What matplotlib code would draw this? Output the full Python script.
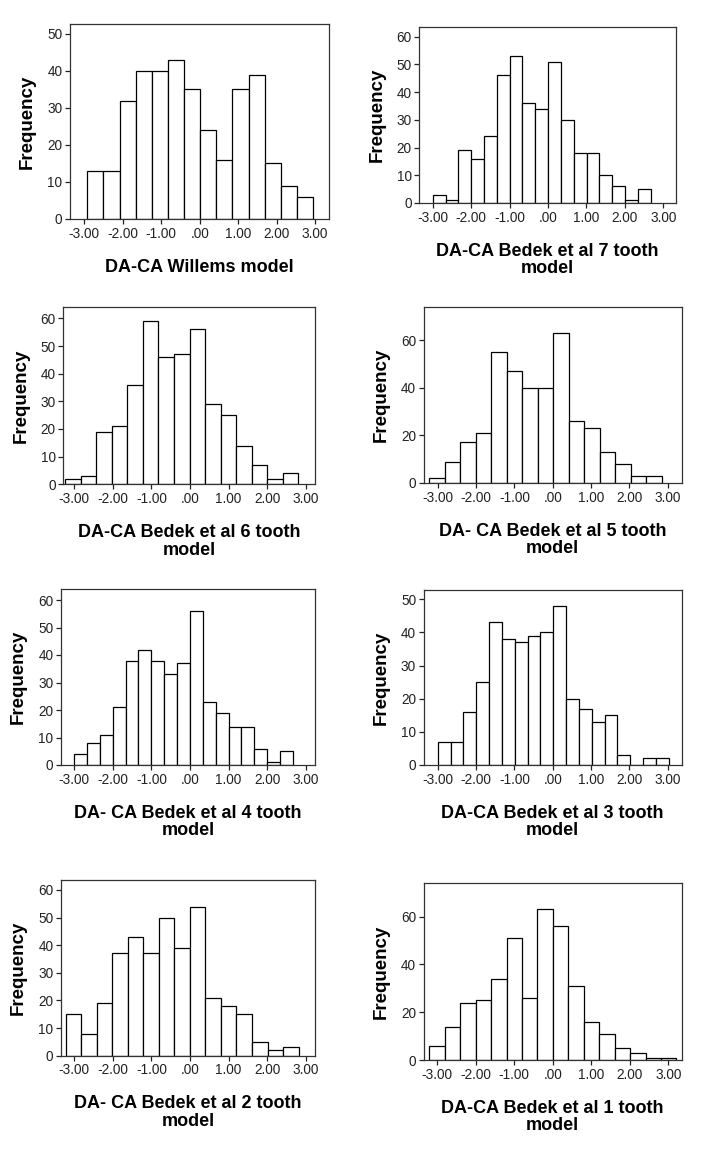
import numpy as np
import matplotlib
matplotlib.use("Agg")
import matplotlib.pyplot as plt

plt.rcParams['font.family'] = ['Liberation Sans', 'DejaVu Sans']

# ---- data ----
titles = [
    "DA-CA Willems model",
    "DA-CA Bedek et al 7 tooth\nmodel",
    "DA-CA Bedek et al 6 tooth\nmodel",
    "DA- CA Bedek et al 5 tooth\nmodel",
    "DA- CA Bedek et al 4 tooth\nmodel",
    "DA-CA Bedek et al 3 tooth\nmodel",
    "DA- CA Bedek et al 2 tooth\nmodel",
    "DA-CA Bedek et al 1 tooth\nmodel",
]

counts_willems = [13, 13, 32, 40, 40, 43, 35, 24, 16, 35, 39, 15, 9, 6]
counts_7tooth = [3, 1, 19, 16, 24, 46, 53, 36, 34, 51, 30, 18, 18, 10, 6, 1, 5]
counts_6tooth = [2, 3, 19, 21, 36, 59, 46, 47, 56, 29, 25, 14, 7, 2, 4]
counts_5tooth = [2, 9, 17, 21, 55, 47, 40, 40, 63, 26, 23, 13, 8, 3, 3]
counts_4tooth = [4, 8, 11, 21, 38, 42, 38, 33, 37, 56, 23, 19, 14, 14, 6, 1, 5]
counts_3tooth = [7, 7, 16, 25, 43, 38, 37, 39, 40, 48, 20, 17, 13, 15, 3, 0, 2, 2]
counts_2tooth = [15, 8, 19, 37, 43, 37, 50, 39, 54, 21, 18, 15, 5, 2, 3]
counts_1tooth = [6, 14, 24, 25, 34, 51, 26, 63, 56, 31, 16, 11, 5, 3, 1, 1]

# first bin edge and bin width of each histogram (x values)
bin_starts = [-2.92, -3.00, -3.233, -3.217, -3.00, -3.00, -3.216, -3.199]
bin_widths = [0.419, 0.3335, 0.403, 0.404, 0.3335, 0.335, 0.402, 0.4004]

x_ticks = [-3, -2, -1, 0, 1, 2, 3]
x_tick_labels = ["-3.00", "-2.00", "-1.00", ".00", "1.00", "2.00", "3.00"]

y_ticks = [
    [0, 10, 20, 30, 40, 50],
    [0, 10, 20, 30, 40, 50, 60],
    [0, 10, 20, 30, 40, 50, 60],
    [0, 20, 40, 60],
    [0, 10, 20, 30, 40, 50, 60],
    [0, 10, 20, 30, 40, 50],
    [0, 10, 20, 30, 40, 50, 60],
    [0, 20, 40, 60],
]
y_max = [52.6, 63.6, 64.0, 74.0, 64.0, 52.8, 63.6, 73.9]
x_lims = [(-3.37, 3.37), (-3.35, 3.33), (-3.28, 3.24), (-3.365, 3.365),
          (-3.34, 3.24), (-3.365, 3.365), (-3.34, 3.24), (-3.346, 3.344)]

all_counts = [counts_willems, counts_7tooth, counts_6tooth, counts_5tooth,
              counts_4tooth, counts_3tooth, counts_2tooth, counts_1tooth]

# ---- layout (pixel boxes: left, top, right, bottom) ----
W, H = 702, 1156
boxes = [
    (70, 24.3, 329.3, 219),
    (419.3, 26.7, 676, 203),
    (63.3, 307.3, 315, 484.3),
    (423.7, 306.7, 681.7, 483),
    (61, 589, 315, 765),
    (423.7, 590, 681.7, 765),
    (61, 880, 315, 1055.7),
    (423.7, 883.3, 681.7, 1060),
]

fig = plt.figure(figsize=(W / 100, H / 100), dpi=100)
fig.patch.set_facecolor("white")

frame_col = "#333333"
for i in range(8):
    l, t, r, b = boxes[i]
    ax = fig.add_axes([l / W, 1 - b / H, (r - l) / W, (b - t) / H])
    counts = np.array(all_counts[i])
    n = len(counts)
    edges = bin_starts[i] + bin_widths[i] * np.arange(n + 1)
    ax.bar(edges[:-1], counts, width=bin_widths[i], align="edge",
           facecolor="white", edgecolor="black", linewidth=0.9)
    ax.set_xlim(*x_lims[i])
    ax.set_ylim(0, y_max[i])
    ax.set_xticks(x_ticks)
    ax.set_xticklabels(x_tick_labels)
    ax.set_yticks(y_ticks[i])
    ax.tick_params(axis="both", direction="out", length=3.5, width=0.9,
                   labelsize=9.8, colors="#222222", pad=2)
    for s in ax.spines.values():
        s.set_color(frame_col)
        s.set_linewidth(0.9)
    ax.set_ylabel("Frequency", fontsize=13.5, fontweight="bold", labelpad=8)
    ax.set_xlabel(titles[i], fontsize=13, fontweight="bold", labelpad=13,
                  linespacing=1.05)

fig.savefig("out.png", dpi=100, facecolor="white")
